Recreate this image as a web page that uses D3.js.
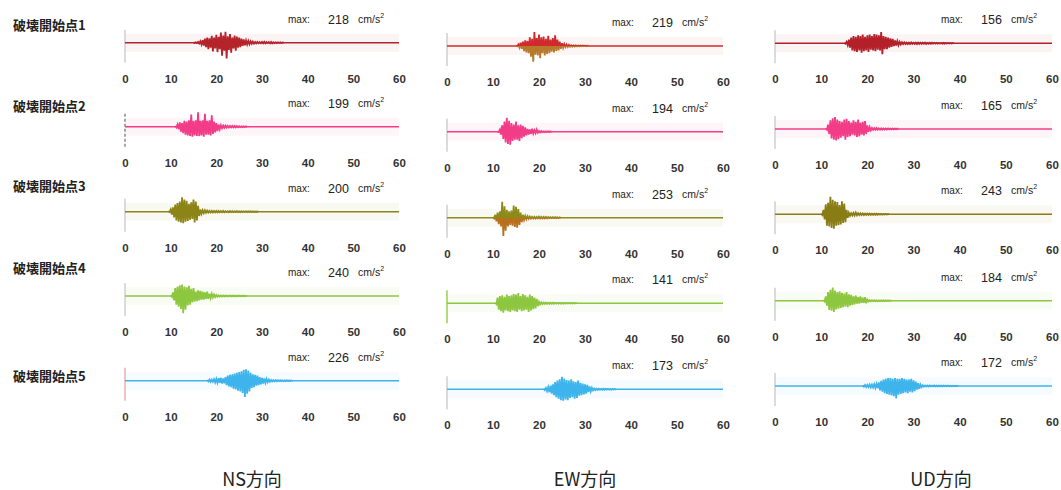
<!DOCTYPE html>
<html>
<head>
<meta charset="utf-8">
<script src="https://cdn.jsdelivr.net/npm/d3@7"></script>
<style>
  body { margin: 0; background: #fff; }
  text { font-family: "Liberation Sans", Arial, sans-serif; }
  .jp { font-family: "Noto Sans CJK JP", "Noto Sans", sans-serif; }
</style>
</head>
<body>
<div id="chart"></div>
<script>
// rows = rupture starting points, columns = components
var rowNames = ["破壊開始点1", "破壊開始点2", "破壊開始点3", "破壊開始点4", "破壊開始点5"];
var colNames = ["NS方向", "EW方向", "UD方向"];
var tickVals = [0, 10, 20, 30, 40, 50, 60];
var maxVals = [[218, 219, 156], [199, 194, 165], [200, 253, 243], [240, 141, 184], [226, 173, 172]];

// peaks (upward) and troughs (downward) of each trace, one pair every 0.5 s from startT (cm/s2)
var sampleStep = 0.5;
var startT = [[15, 15, 15], [11, 11, 11], [9.5, 10, 10], [10, 10.5, 10.5], [18, 21, 19]];
var upAmp = [
  [
    [3,5,10,20,35,55,70,60,95,70,110,80,140,100,150,90,120,70,100,85,70,55,45,30,25,20,15,10,10,8,10,12,8,10,12,8,6,5,5,4],
    [5,20,45,60,80,70,120,100,195,110,160,120,130,100,140,90,110,150,90,60,40,25,20,15,10,8,8,6,5,6,4,4],
    [5,20,50,80,100,90,110,100,120,90,110,120,100,130,120,110,156,100,90,80,70,60,40,30,20,15,12,10,10,12,8,10,10,8,8,10,6,8,8,6,6,5,5,6,5,4,4,4]
  ],
  [
    [10,30,60,50,80,70,90,170,80,90,199,80,90,180,80,90,160,70,50,30,20,15,15,12,10,10,12,8,8,6,6,5],
    [5,30,90,140,194,150,120,100,140,90,100,80,60,40,30,40,20,30,10,8,6,5,5,4],
    [10,60,120,150,165,130,110,100,130,140,110,90,120,100,130,90,100,110,50,25,15,12,12,10,10,8,8,8,6,6,5,5]
  ],
  [
    [5,30,60,100,120,140,200,170,150,110,130,170,140,80,30,20,20,15,12,12,10,10,10,8,10,8,8,10,8,6,8,6,6,5,5,6,5,4,4,4],
    [10,40,70,90,222,160,110,90,100,170,150,120,70,40,25,20,15,12,12,10,15,10,12,10,10,8,8,8,6,5],
    [10,60,140,160,243,200,180,170,130,180,150,60,20,15,20,25,15,12,12,10,10,10,8,8,8,6,6,5,5,4]
  ],
  [
    [10,50,110,130,150,160,130,120,140,100,110,60,80,70,60,50,60,30,30,20,15,10,8,8,8,6,8,6,6,5,6,5,5,4],
    [10,80,100,110,90,120,100,110,130,120,141,100,130,110,90,120,100,80,60,20,12,10,10,8,8,8,6,6,6,5,5,4,4,4,4,4],
    [10,60,120,150,184,140,120,130,110,100,120,90,80,60,70,50,60,40,50,15,8,8,8,6,6,6,5,5,5,4]
  ],
  [
    [10,15,15,20,25,35,40,30,50,70,80,90,100,110,120,130,150,160,140,110,90,80,70,50,40,30,25,15,10,8,8,6,8,6,6,5,5,4],
    [10,20,30,50,70,100,120,140,173,150,130,120,140,110,100,120,90,80,70,60,40,20,10,8,8,6,8,6,6,5,5,4],
    [10,15,15,20,20,25,30,50,70,90,100,110,110,100,110,100,100,110,100,90,90,100,80,60,40,20,10,8,8,8,6,8,6,6,6,5,5,5,4,4,4,4]
  ]
];
var dnAmp = [
  [
    [3,5,12,25,40,60,90,70,120,80,130,90,180,110,218,100,140,80,110,70,60,45,35,25,20,15,12,10,8,8,8,10,6,8,8,6,5,4,4,3],
    [5,20,40,70,90,100,150,219,120,130,170,100,130,110,100,80,90,70,60,40,25,15,12,10,8,6,6,5,4,4,3,3],
    [5,25,60,100,110,120,100,130,110,100,120,90,100,110,90,100,150,80,80,60,50,40,30,25,15,12,10,10,10,8,8,10,8,8,6,8,8,6,5,5,5,4,4,4,4,3,3,3]
  ],
  [
    [10,35,70,90,110,120,130,140,120,130,130,120,140,110,110,120,100,80,60,35,20,15,12,10,10,8,8,8,6,5,4,4],
    [5,40,100,150,170,180,130,110,110,130,90,70,50,40,30,25,20,15,10,6,5,4,3,3],
    [10,70,130,150,160,140,120,100,150,110,100,80,90,110,100,80,90,70,40,20,12,10,10,8,8,8,6,6,5,5,4,4]
  ],
  [
    [5,40,80,120,140,150,160,140,130,110,100,150,120,60,30,20,15,12,10,10,10,8,8,8,8,6,8,6,6,5,5,5,4,4,4,4,3,3,3,3],
    [10,50,90,120,253,180,120,100,110,130,140,100,60,30,20,15,12,10,10,8,10,8,8,8,6,6,6,5,4,4],
    [10,70,160,170,190,200,160,150,140,120,110,50,20,15,15,12,12,10,10,8,8,8,6,6,6,5,5,4,4,3]
  ],
  [
    [10,60,120,150,180,240,190,130,120,90,80,70,60,50,50,40,40,30,20,15,10,8,8,6,6,6,5,5,5,4,4,4,4,3],
    [10,90,110,130,100,110,120,100,110,120,90,110,100,90,120,100,80,70,40,15,10,8,8,8,6,6,6,5,5,5,4,4,4,4,3,3],
    [10,70,130,140,155,120,110,100,90,80,90,70,60,50,40,40,30,30,35,10,8,6,6,6,5,5,5,4,4,4]
  ],
  [
    [10,15,15,25,30,30,40,35,60,80,90,110,120,140,150,170,226,180,150,100,90,70,60,50,40,30,20,15,10,8,8,6,6,6,5,5,4,4],
    [10,25,40,60,80,110,130,150,160,140,150,120,110,130,120,90,80,70,60,40,30,15,10,8,8,6,6,6,5,5,4,4],
    [10,15,15,20,20,25,30,60,80,100,110,120,130,140,172,120,110,100,90,100,80,90,70,50,40,15,8,6,6,6,6,5,5,5,5,4,4,4,4,3,3,3]
  ]
];

// layout
var width = 1061, height = 490;
var colX0 = [125, 447, 775], colX60 = [399, 723, 1052];
var baseY = [[42.7, 46, 43.3], [126.7, 131.7, 129], [211.7, 217.7, 214.3], [296, 303.3, 300.7], [380.7, 389.3, 386]];
var rowLabelY = [25, 106, 186, 268, 376];
var titleX = [252, 585, 941], titleY = 480;
var upColors = [["#b5232b", "#d12a2e", "#b3202a"], ["#f23c87", "#f23c87", "#f23c87"], ["#8c8416", "#8e8a18", "#8a7c14"], ["#8dc63f", "#8dc63f", "#8dc63f"], ["#3db4ec", "#3db4ec", "#3db4ec"]];
var dnColors = [["#b5232b", "#b87a2a", "#b3202a"], ["#f23c87", "#f23c87", "#f23c87"], ["#8c8416", "#b8701e", "#8a7c14"], ["#8dc63f", "#8dc63f", "#8dc63f"], ["#3db4ec", "#3db4ec", "#3db4ec"]];
var axisColors = [["#cfcfcf", "#cfcfcf", "#cfcfcf"], ["#8a8a8a", "#cfcfcf", "#cfcfcf"], ["#cfcfcf", "#cfcfcf", "#cfcfcf"], ["#cfcfcf", "#9ad04e", "#cfcfcf"], ["#e8b0b0", "#cfcfcf", "#cfcfcf"]];

var svg = d3.select("#chart").append("svg")
  .attr("width", width)
  .attr("height", height);

var yAmp = d3.scaleLinear().domain([-250, 250]).range([18, -18]);

var wave = d3.line()
  .x(function(d) { return d.x; })
  .y(function(d) { return d.y; });

rowNames.forEach(function(name, r) {
  svg.append("text")
    .attr("class", "jp")
    .attr("x", 13)
    .attr("y", rowLabelY[r])
    .attr("dy", "0.35em")
    .style("font-size", "13px")
    .style("font-weight", "600")
    .style("fill", "#222")
    .text(name);

  colNames.forEach(function(cn, c) {
    var x = d3.scaleLinear().domain([0, 60]).range([colX0[c], colX60[c]]);
    var by = baseY[r][c];
    var id = "p" + r + c;
    var g = svg.append("g").attr("transform", "translate(0," + by + ")");

    // clip halves so upper/lower parts can take different colours
    var defs = g.append("defs");
    defs.append("clipPath").attr("id", id + "u")
      .append("rect").attr("x", x(0)).attr("y", -30).attr("width", x(60) - x(0) + 2).attr("height", 30);
    defs.append("clipPath").attr("id", id + "d")
      .append("rect").attr("x", x(0)).attr("y", 0).attr("width", x(60) - x(0) + 2).attr("height", 30);

    // faint band behind trace
    g.append("rect")
      .attr("x", x(0))
      .attr("y", -9)
      .attr("width", x(60) - x(0))
      .attr("height", 18)
      .style("fill", upColors[r][c])
      .style("opacity", 0.05);

    // vertical amplitude axis
    g.append("line")
      .attr("x1", x(0)).attr("x2", x(0))
      .attr("y1", -13).attr("y2", 20)
      .attr("stroke", axisColors[r][c])
      .attr("stroke-width", 1.5)
      .attr("stroke-dasharray", r == 1 && c == 0 ? "3,2" : null);

    // base line of the trace
    g.append("line")
      .attr("x1", x(0)).attr("x2", x(60))
      .attr("y1", 0).attr("y2", 0)
      .attr("stroke", upColors[r][c])
      .attr("stroke-width", 1.6);

    var up = upAmp[r][c], dn = dnAmp[r][c], t0 = startT[r][c];
    var pts = [];
    up.forEach(function(v, i) {
      var t = t0 + i * sampleStep;
      pts.push({ x: x(t), y: yAmp(v) });
      pts.push({ x: x(t + sampleStep / 2), y: yAmp(-(dn[i] || 0)) });
    });

    g.append("path").datum(pts)
      .attr("d", wave)
      .attr("clip-path", "url(#" + id + "d)")
      .style("fill", "none")
      .style("stroke", dnColors[r][c])
      .style("stroke-width", 1.8);
    g.append("path").datum(pts)
      .attr("d", wave)
      .attr("clip-path", "url(#" + id + "u)")
      .style("fill", "none")
      .style("stroke", upColors[r][c])
      .style("stroke-width", 1.8);

    // time axis labels
    var ax = g.append("g")
      .attr("transform", "translate(0,30)")
      .call(d3.axisBottom(x).tickValues(tickVals).tickSize(0).tickPadding(0));
    ax.select(".domain").remove();
    ax.selectAll("text")
      .attr("dy", "0.35em")
      .attr("y", 6)
      .style("font-family", "'Liberation Sans', Arial, sans-serif")
      .style("font-size", "11.5px")
      .style("font-weight", "bold")
      .style("fill", "#333");

    // max label
    var my = -23.5;
    g.append("text")
      .attr("x", x(60) - 111).attr("y", my).attr("dy", "0.35em")
      .style("font-size", "10px").style("fill", "#222")
      .text("max:");
    g.append("text")
      .attr("x", x(60) - 71).attr("y", my).attr("dy", "0.35em")
      .style("font-size", "12.5px").style("fill", "#222")
      .text(maxVals[r][c]);
    var unit = g.append("text")
      .attr("x", x(60) - 41).attr("y", my).attr("dy", "0.35em")
      .style("font-size", "10.5px").style("fill", "#222")
      .text("cm/s");
    unit.append("tspan")
      .attr("dy", "-5")
      .style("font-size", "7px")
      .text("2");
  });
});

colNames.forEach(function(cn, c) {
  svg.append("text")
    .attr("class", "jp")
    .attr("x", titleX[c])
    .attr("y", titleY)
    .attr("dy", "0.35em")
    .attr("text-anchor", "middle")
    .style("font-size", "18px")
    .style("fill", "#222")
    .text(cn);
});
</script>
</body>
</html>
